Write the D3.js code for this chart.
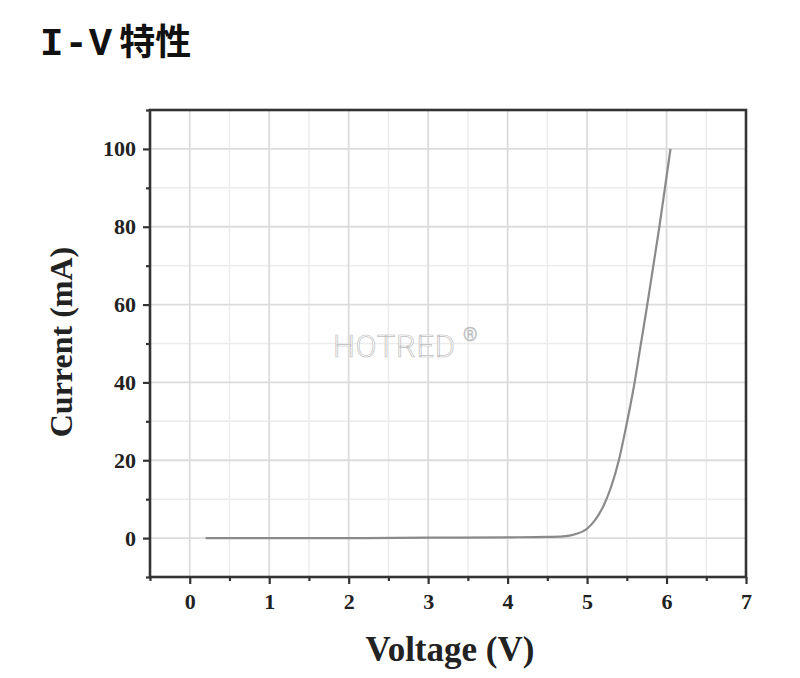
<!DOCTYPE html>
<html><head><meta charset="utf-8">
<script src="https://cdn.jsdelivr.net/npm/d3@7/dist/d3.min.js"></script>
<style>body{margin:0;background:#fff;}svg{display:block;}</style>
</head><body>
<svg id="c" width="800" height="678"></svg>
<script>
const voltage = [0.2, 1, 2, 3, 4, 4.5, 4.7, 4.85, 5.0, 5.1, 5.2, 5.3, 5.4, 5.5, 5.59, 5.67, 5.75, 5.83, 5.91, 5.98, 6.05];
const current = [0, 0, 0, 0.1, 0.2, 0.3, 0.45, 1.0, 2.4, 4.6, 8.0, 13, 20, 29.5, 39, 49, 59, 69.5, 80, 90, 100];
const xTicks = [0, 1, 2, 3, 4, 5, 6, 7];
const yTicks = [0, 20, 40, 60, 80, 100];
const xMinor = [-0.5, 0.5, 1.5, 2.5, 3.5, 4.5, 5.5, 6.5];
const yMinor = [-10, 10, 30, 50, 70, 90, 110];
const title = "I-V 特性";
const xLabel = "Voltage (V)";
const yLabel = "Current (mA)";

const svg = d3.select("#c");
const L = 150, R = 746, T = 110, B = 577;
const x = d3.scaleLinear().domain([-0.5, 7]).range([L, R]);
const y = d3.scaleLinear().domain([-10, 110]).range([B, T]);

// title
const tt = svg.append("text").attr("x", 40).attr("y", 55).attr("font-weight", "bold").attr("fill", "#111");
tt.append("tspan").attr("font-family", "'Liberation Mono', 'DejaVu Sans Mono', monospace").attr("font-size", 39).attr("letter-spacing", 1).text(title.split(" ")[0]);
tt.append("tspan").attr("font-family", "'Noto Sans CJK SC', sans-serif").attr("font-size", 36).attr("dx", 6).text(title.split(" ")[1]);

// grid
const g = svg.append("g");
g.selectAll(".vm").data(xMinor.filter(v => v > -0.5)).join("line")
  .attr("x1", d => x(d)).attr("x2", d => x(d)).attr("y1", T).attr("y2", B)
  .attr("stroke", "#ececec").attr("stroke-width", 1.5);
g.selectAll(".hm").data(yMinor.filter(v => v > -10 && v < 110)).join("line")
  .attr("y1", d => y(d)).attr("y2", d => y(d)).attr("x1", L).attr("x2", R)
  .attr("stroke", "#ececec").attr("stroke-width", 1.5);
g.selectAll(".vM").data(xTicks).join("line")
  .attr("x1", d => x(d)).attr("x2", d => x(d)).attr("y1", T).attr("y2", B)
  .attr("stroke", "#dcdcdc").attr("stroke-width", 1.8);
g.selectAll(".hM").data(yTicks).join("line")
  .attr("y1", d => y(d)).attr("y2", d => y(d)).attr("x1", L).attr("x2", R)
  .attr("stroke", "#dcdcdc").attr("stroke-width", 1.8);

// watermark
svg.append("text").attr("x", 333).attr("y", 357).attr("font-family", "Roboto, sans-serif")
  .attr("font-weight", 300).attr("font-size", 31).attr("fill", "#fff").attr("stroke", "#bdbdbd").attr("stroke-width", 0.7)
  .attr("textLength", 122).text("HOTRED");
svg.append("text").attr("x", 463).attr("y", 341).attr("font-family", "Roboto, sans-serif").attr("font-weight", 300)
  .attr("font-size", 18).attr("fill", "#fff").attr("stroke", "#bdbdbd").attr("stroke-width", 0.7).text("®");

// curve
const pts = voltage.map((v, i) => [v, current[i]]);
svg.append("path").datum(pts)
  .attr("d", d3.line().x(d => x(d[0])).y(d => y(d[1])).curve(d3.curveMonotoneX))
  .attr("fill", "none").attr("stroke", "#8a8a8a").attr("stroke-width", 2.2);

// axes
const fontSerif = "'Liberation Serif', 'Times New Roman', serif";
const xAxis = svg.append("g").attr("transform", `translate(0,${B})`)
  .call(d3.axisBottom(x).tickValues(xTicks).tickFormat(d3.format("d")).tickSize(7).tickPadding(9));
const xAxisMinor = svg.append("g").attr("transform", `translate(0,${B})`)
  .call(d3.axisBottom(x).tickValues(xMinor).tickFormat("").tickSize(4));
const yAxis = svg.append("g").attr("transform", `translate(${L},0)`)
  .call(d3.axisLeft(y).tickValues(yTicks).tickFormat(d3.format("d")).tickSize(7).tickPadding(7));
const yAxisMinor = svg.append("g").attr("transform", `translate(${L},0)`)
  .call(d3.axisLeft(y).tickValues(yMinor).tickFormat("").tickSize(4));
[xAxis, xAxisMinor, yAxis, yAxisMinor].forEach(a => {
  a.select(".domain").remove();
  a.selectAll(".tick line").attr("stroke", "#333").attr("stroke-width", 2.2);
  a.selectAll("text").attr("font-family", fontSerif).attr("font-weight", "bold").attr("font-size", 22).attr("fill", "#222");
});

// frame
svg.append("rect").attr("x", L).attr("y", T).attr("width", R - L).attr("height", B - T)
  .attr("fill", "none").attr("stroke", "#333").attr("stroke-width", 2.6);

// axis labels
svg.append("text").attr("x", 450).attr("y", 661).attr("text-anchor", "middle")
  .attr("font-family", fontSerif).attr("font-weight", "bold").attr("font-size", 35).attr("fill", "#222").text(xLabel);
svg.append("text").attr("transform", "translate(72,342) rotate(-90)").attr("text-anchor", "middle")
  .attr("font-family", fontSerif).attr("font-weight", "bold").attr("font-size", 32).attr("fill", "#222").text(yLabel);
</script>
</body></html>
